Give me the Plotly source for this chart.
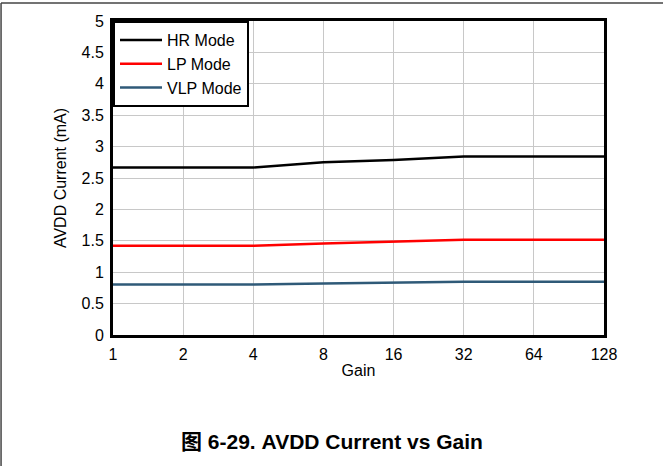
import plotly.graph_objects as go

gain = [1, 2, 4, 8, 16, 32, 64, 128]
hr_mode = [2.667, 2.667, 2.667, 2.75, 2.785, 2.844, 2.844, 2.844]
lp_mode = [1.42, 1.42, 1.42, 1.457, 1.484, 1.515, 1.515, 1.515]
vlp_mode = [0.803, 0.803, 0.803, 0.82, 0.835, 0.847, 0.847, 0.847]
y_ticks = [0, 0.5, 1, 1.5, 2, 2.5, 3, 3.5, 4, 4.5, 5]
y_labels = ["0", "0.5", "1", "1.5", "2", "2.5", "3", "3.5", "4", "4.5", "5"]

FONT = "Arial"

fig = go.Figure()
for name, vals, color in [("HR Mode", hr_mode, "#000000"),
                          ("LP Mode", lp_mode, "#ff0000"),
                          ("VLP Mode", vlp_mode, "#2f5a78")]:
    fig.add_trace(go.Scatter(x=gain, y=vals, name=name, mode="lines",
                             line=dict(color=color, width=2.5)))

fig.update_layout(
    width=663, height=466,
    margin=dict(l=113, r=59, t=21, b=131),
    paper_bgcolor="white", plot_bgcolor="white",
    font=dict(family=FONT, size=16, color="#000000"),
    showlegend=True,
    legend=dict(x=0, y=1, xanchor="left", yanchor="top",
                bgcolor="white", bordercolor="#000000", borderwidth=2,
                font=dict(size=16), tracegroupgap=0, itemwidth=42),
    xaxis=dict(type="log", range=[0, 2.10721], tickvals=gain,
               ticktext=[str(g) for g in gain],
               showgrid=True, gridcolor="#c8c8c8", gridwidth=1,
               showline=True, linecolor="#000000", linewidth=3, mirror=True,
               ticks="", zeroline=False, ticklabelstandoff=3,
               title=dict(text="Gain", standoff=3, font=dict(size=16))),
    yaxis=dict(range=[0, 5], tickvals=y_ticks, ticktext=y_labels,
               showgrid=True, gridcolor="#c8c8c8", gridwidth=1,
               showline=True, linecolor="#000000", linewidth=3, mirror=True,
               ticks="", zeroline=False, ticklabelstandoff=3,
               title=dict(text="AVDD Current (mA)", standoff=11, font=dict(size=16))),
    annotations=[dict(text="<b>图 6-29. AVDD Current vs Gain</b>",
                      xref="paper", yref="paper", x=0.447, y=-0.338,
                      xanchor="center", yanchor="middle", showarrow=False,
                      font=dict(family="Arial, Noto Sans CJK SC", size=21, color="#000000"))],
    shapes=[
        dict(type="line", xref="paper", yref="paper", x0=-0.228, x1=1.2,
             y0=1.057, y1=1.057, line=dict(color="#444444", width=1.5)),
        dict(type="line", xref="paper", yref="paper", x0=-0.228, x1=-0.228,
             y0=-0.42, y1=1.057, line=dict(color="#444444", width=1.5)),
    ],
)

fig.write_html("out.html", config={"displayModeBar": False},
               post_script="document.body.style.margin='0px';")
